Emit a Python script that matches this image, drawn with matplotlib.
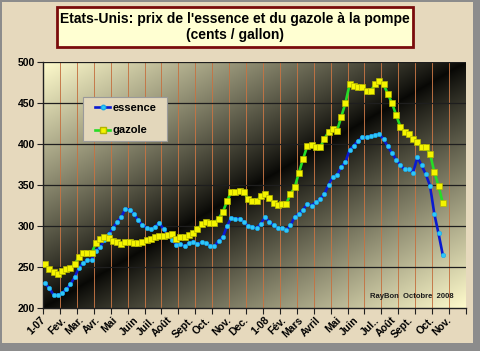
import numpy as np
import matplotlib
matplotlib.use('Agg')
import matplotlib.pyplot as plt
import matplotlib.transforms as mtransforms
from matplotlib.patches import Rectangle
from matplotlib.lines import Line2D

plt.rcParams['font.family'] = ['Liberation Sans', 'DejaVu Sans']
plt.rcParams['font.weight'] = 'bold'

# weekly prices, cents / gallon, from the first week of Jan 2007 to end of Oct 2008
essence = [230, 224, 216, 216, 218, 223, 229, 238, 249, 255, 258, 259, 270, 274, 283, 290,
           297, 305, 311, 321, 320, 315, 307, 301, 298, 296, 299, 304, 296, 289, 283, 277,
           278, 275, 279, 281, 278, 280, 279, 276, 275, 282, 286, 300, 310, 309, 309, 305,
           300, 299, 297, 303, 311, 305, 301, 297, 297, 295, 301, 311, 315, 320, 327, 325,
           329, 333, 339, 350, 360, 362, 372, 378, 393, 398, 404, 408, 408, 410, 411, 412,
           406, 397, 389, 381, 374, 369, 369, 365, 384, 374, 363, 349, 315, 291, 265]
gazole = [254, 247, 244, 241, 245, 247, 249, 254, 262, 267, 267, 267, 279, 284, 287, 285,
          282, 280, 278, 280, 281, 279, 279, 280, 283, 284, 287, 288, 288, 289, 290, 284,
          286, 286, 289, 292, 296, 302, 305, 304, 304, 309, 317, 330, 342, 341, 343, 341,
          333, 331, 331, 336, 339, 334, 328, 326, 327, 327, 339, 347, 365, 382, 398, 399,
          396, 396, 406, 415, 418, 416, 433, 450, 473, 471, 470, 470, 465, 465, 473, 477,
          473, 461, 450, 435, 421, 415, 412, 406, 402, 396, 396, 388, 366, 349, 328]

# month labels and the week where each month starts
mois = ['1-07', 'Fev.', 'Mar.', 'Avr.', 'Mai', 'Juin', 'Juil.', 'Août', 'Sept.', 'Oct.',
        'Nov.', 'Dec.', '1-08', 'Fév.', 'Mars', 'Avril', 'Mai', 'Juin', 'Jul..', 'Août',
        'Sept.', 'Oct.', 'Nov.']
semaine_mois = [0, 5, 9, 13, 17, 22, 26, 30, 35, 39, 44, 48, 53, 57, 61, 65, 70, 74, 79,
                83, 87, 92, 96]
n_cat = 100

W, H = 480, 351
fig = plt.figure(figsize=(4.8, 3.51), dpi=100)
fig.patch.set_facecolor('#8c8c8c')
fig.patches.append(Rectangle((2 / W, 8 / H), 471 / W, 341 / H, transform=fig.transFigure,
                             facecolor='#e6d9bd', edgecolor='none', zorder=-1))

ax = fig.add_axes([43 / W, 43 / H, 423 / W, 246 / H])
ax.set_zorder(1)
x = np.arange(len(essence))
xmin, xmax = -0.5, n_cat - 0.5

# diagonal two-colour fill of the plot area
u, v = np.meshgrid(np.linspace(0, 1, 400), np.linspace(0, 1, 240))
d = (np.abs(u - v) ** 0.9)[..., None]
light = np.array([1.0, 0.985, 0.80])
dark = np.array([0.03, 0.03, 0.02])
ax.imshow(dark + (light - dark) * d, extent=[xmin, xmax, 200, 500], origin='lower',
          aspect='auto', zorder=0)

grid_x = np.arange(xmin, xmax + 0.01, 4)
for gx in grid_x[1:-1]:
    ax.axvline(gx, color='#c47444', lw=0.65, zorder=1)
for gy in range(250, 501, 50):
    ax.axhline(gy, color='#1e1e1e', lw=0.9, zorder=1)

ax.plot(x, essence, color='#0a1ad0', lw=1.9, marker='o', ms=3.2, mfc='#2ec8f8',
        mec='#1aa8e8', mew=0.4, zorder=3)
ax.plot(x, gazole, color='#26dc26', lw=1.9, marker='s', ms=4.0, mfc='#f4f400',
        mec='#b4b400', mew=0.5, zorder=4)

ax.set_xlim(xmin, xmax)
ax.set_ylim(200, 500)
ax.set_yticks(range(200, 501, 50))
ax.set_xticks(grid_x)
ax.set_xticklabels([])
ax.set_xticks(semaine_mois, mois, minor=True)
ax.tick_params(axis='x', which='major', length=4, width=0.8, color='#202020', direction='out')
ax.tick_params(axis='x', which='minor', length=0, pad=5)
ax.tick_params(axis='y', length=4, width=0.8, color='#202020', labelsize=7.5, pad=2)
shift = mtransforms.ScaledTranslation(-0.05, 0, fig.dpi_scale_trans)
for lab in ax.get_xticklabels(minor=True):
    lab.set_rotation(45)
    lab.set_ha('right')
    lab.set_va('top')
    lab.set_rotation_mode('anchor')
    lab.set_fontsize(7.5)
    lab.set_fontweight('bold')
    lab.set_transform(lab.get_transform() + shift)
for lab in ax.get_yticklabels():
    lab.set_fontweight('bold')
for side in ['top', 'right']:
    ax.spines[side].set_visible(False)
for side in ['left', 'bottom']:
    ax.spines[side].set_color('#202020')
    ax.spines[side].set_linewidth(1)

# legend: frame drawn by hand, entries placed inside
fig.patches.append(Rectangle((83 / W, 1 - 141 / H), 84 / W, 44 / H, transform=fig.transFigure,
                             facecolor='#e3d7bb', edgecolor='#9a9a9a', lw=0.8, zorder=2))
handles = [Line2D([], [], color='#0a1ad0', lw=1.9, marker='o', ms=3.2, mfc='#2ec8f8', mec='#1aa8e8'),
           Line2D([], [], color='#26dc26', lw=1.9, marker='s', ms=4.0, mfc='#f4f400', mec='#b4b400')]
leg = fig.legend(handles, ['essence', 'gazole'], loc='center left',
                 bbox_to_anchor=(95 / W, 1 - 119 / H), borderaxespad=0, borderpad=0,
                 frameon=False, prop={'size': 8, 'weight': 'bold'}, handlelength=1.35,
                 handletextpad=0.25, labelspacing=1.15)
leg.set_zorder(3)

ax.text((412 - 43) / 423, (308 - 297) / 246, 'RayBon  Octobre  2008', transform=ax.transAxes,
        ha='center', va='center', fontsize=5.5, fontweight='bold', color='#1a1a1a', zorder=5)

# title box
fig.patches.append(Rectangle((57 / W, 1 - 47 / H), 356 / W, 40 / H, transform=fig.transFigure,
                             facecolor='#ffffd2', edgecolor='#7a0c0c', lw=2, zorder=2))
fig.text(235 / W, 1 - 27 / H, "Etats-Unis: prix de l'essence et du gazole à la pompe\n(cents / gallon)",
         ha='center', va='center', fontsize=10, fontweight='bold', linespacing=1.1, zorder=3)

fig.savefig('out.png', dpi=100, facecolor=fig.get_facecolor())
